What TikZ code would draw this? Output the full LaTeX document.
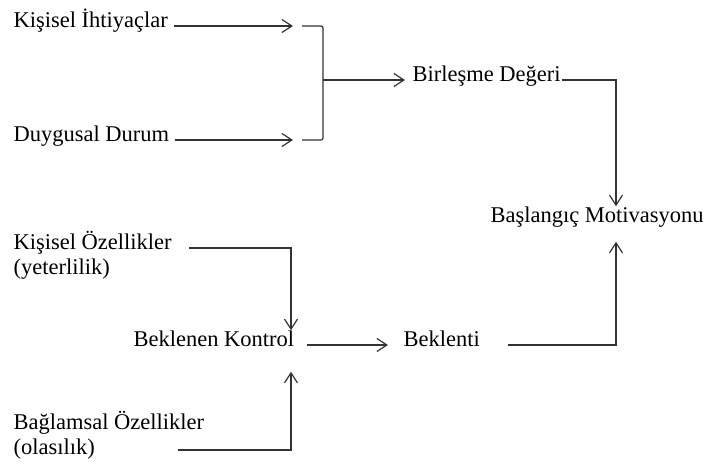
\documentclass[tikz,border=0pt]{standalone}
\usepackage{fontspec}
\setmainfont{Liberation Serif}
\usetikzlibrary{calc}
\usetikzlibrary{arrows.meta}

\tikzset{lbl/.style={inner sep=0pt, anchor=west, text height=0.6em, text depth=0.24em,
    text=black, font=\fontsize{22.5}{25}\selectfont},
  arr/.style={-{Straight Barb[length=10pt,width=13pt]}}}

\begin{document}
\begin{tikzpicture}[x=1pt, y=-1pt,
  line width=1.2pt, color=black!80
  ]
  \useasboundingbox (0,0) rectangle (707,464);

  \node [lbl] (kih) at (13,26) {Kişisel İhtiyaçlar};
  \node [lbl] (dd) at (13,140) {Duygusal Durum};
  \node [lbl] (bd) at (412,80) {Birleşme Değeri};
  \node [lbl] (bm) at (490,221) {Başlangıç Motivasyonu};
  \node [lbl] (bk) at (133,345) {Beklenen Kontrol};
  \node [lbl] (bt) at (403,345) {Beklenti};
  \node [lbl] (ko) at (13,248) {Kişisel Özellikler};
  \node [lbl] (koa) at (13,273) {(yeterlilik)};
  \node [lbl] (bo) at (13,428) {Bağlamsal Özellikler};
  \node [lbl] (boa) at (13,453) {(olasılık)};

  \coordinate (armx) at (302,0);
  \coordinate (brx) at (323,0);
  \coordinate (mx) at (616,0);
  \coordinate (kx) at (291,0);

  \draw [arr] ([xshift=5pt]kih.east) -- ([xshift=-9pt]kih.east -| armx);
  \draw [arr] ([xshift=5pt]dd.east) -- ([xshift=-9pt]dd.east -| armx);
  \draw [rounded corners=2pt] (kih.east -| armx) -| (dd.east -| brx) -- (dd.east -| armx);
  \draw [arr] (bd.west -| brx) -- ([xshift=-7pt]bd.west);

  \draw [arr] ([xshift=1pt]bd.east) -| ([yshift=10pt]bm.north -| mx);
  \draw [arr] ([xshift=28pt]bt.east) -| ([yshift=-16pt]bm.south -| mx);
  \draw [arr] ([xshift=12pt]bk.east) -- ([xshift=-15pt]bt.west);

  \draw [arr] ([xshift=17pt]ko.east) -| ([yshift=10pt]bk.north -| kx);
  \draw [arr] ([shift={(83pt,3pt)}]boa.east) -| ([yshift=-22pt]bk.south -| kx);
\end{tikzpicture}
\end{document}
